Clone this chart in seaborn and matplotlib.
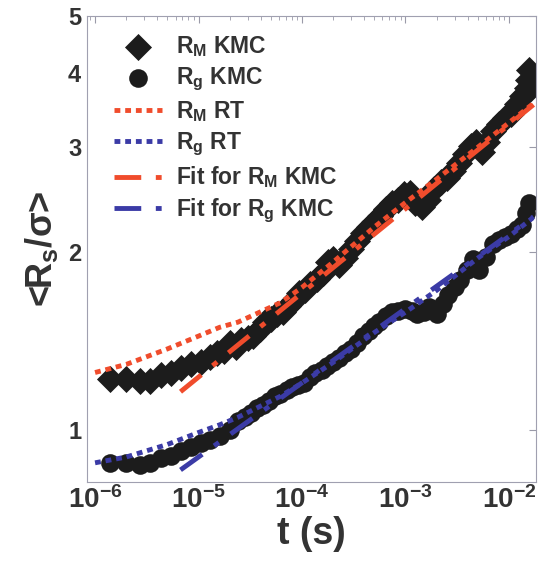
import numpy as np
import pandas as pd
import matplotlib
matplotlib.use("Agg")
import matplotlib.pyplot as plt
import matplotlib.ticker as mticker
import seaborn as sns

# ---- data ----
rm_t = [1.4e-6, 2.0e-6, 2.7e-6, 3.4e-6, 4.3e-6, 5.4e-6, 6.7e-6, 8.4e-6, 1.05e-5, 1.3e-5,
        1.5e-5, 1.75e-5, 2.0e-5, 2.3e-5, 2.6e-5, 3.0e-5, 3.4e-5, 3.9e-5, 4.4e-5, 5.0e-5,
        5.7e-5, 6.5e-5, 7.3e-5, 8.3e-5, 9.4e-5, 1.07e-4, 1.2e-4, 1.4e-4, 1.6e-4, 1.8e-4,
        2.0e-4, 2.3e-4, 2.6e-4, 3.0e-4, 3.4e-4, 3.9e-4, 4.4e-4, 5.0e-4, 5.7e-4, 6.5e-4,
        7.5e-4, 8.5e-4, 9.7e-4, 1.1e-3, 1.25e-3, 1.45e-3, 1.65e-3, 1.9e-3, 2.2e-3, 2.5e-3,
        2.9e-3, 3.3e-3, 3.8e-3, 4.3e-3, 4.8e-3, 5.5e-3, 6.2e-3, 7.1e-3, 8.1e-3, 9.2e-3,
        1.05e-2, 1.2e-2, 1.35e-2, 1.45e-2, 1.5e-2, 1.52e-2, 1.55e-2]
rm_kmc = [1.22, 1.22, 1.21, 1.21, 1.24, 1.25, 1.27, 1.29, 1.30, 1.33,
          1.35, 1.36, 1.40, 1.38, 1.42, 1.43, 1.44, 1.48, 1.52, 1.54,
          1.57, 1.58, 1.62, 1.66, 1.70, 1.72, 1.76, 1.80, 1.84, 1.92,
          1.94, 1.90, 1.95, 2.02, 2.08, 2.15, 2.20, 2.24, 2.30, 2.36,
          2.42, 2.44, 2.50, 2.51, 2.42, 2.38, 2.44, 2.55, 2.62, 2.66,
          2.74, 2.82, 2.92, 3.02, 3.06, 2.95, 3.06, 3.20, 3.28, 3.36,
          3.42, 3.55, 3.66, 3.70, 3.78, 3.90, 4.05]

rg_t = [1.4e-6, 2.0e-6, 2.7e-6, 3.4e-6, 4.3e-6, 5.4e-6, 6.7e-6, 8.4e-6, 1.05e-5, 1.3e-5,
        1.6e-5, 2.0e-5, 2.4e-5, 2.8e-5, 3.2e-5, 3.7e-5, 4.2e-5, 4.8e-5, 5.5e-5, 6.2e-5,
        7.1e-5, 8.1e-5, 9.2e-5, 1.05e-4, 1.2e-4, 1.35e-4, 1.55e-4, 1.75e-4, 2.0e-4, 2.3e-4,
        2.6e-4, 3.0e-4, 3.4e-4, 3.9e-4, 4.4e-4, 5.0e-4, 5.6e-4, 6.5e-4, 7.5e-4, 8.5e-4,
        1.0e-3, 1.15e-3, 1.3e-3, 1.5e-3, 1.7e-3, 2.0e-3, 2.3e-3, 2.6e-3, 3.0e-3, 3.4e-3,
        3.9e-3, 4.5e-3, 5.2e-3, 6.0e-3, 7.0e-3, 8.0e-3, 9.2e-3, 1.05e-2, 1.2e-2, 1.35e-2,
        1.45e-2, 1.55e-2]
rg_kmc = [0.88, 0.88, 0.873, 0.88, 0.895, 0.905, 0.92, 0.935, 0.95, 0.96,
          0.975, 1.00, 1.035, 1.05, 1.07, 1.09, 1.10, 1.12, 1.14, 1.15,
          1.17, 1.18, 1.19, 1.20, 1.23, 1.25, 1.26, 1.28, 1.30, 1.32,
          1.35, 1.37, 1.40, 1.44, 1.47, 1.50, 1.52, 1.56, 1.58, 1.59,
          1.60, 1.59, 1.57, 1.58, 1.61, 1.57, 1.63, 1.69, 1.74, 1.79,
          1.86, 1.94, 1.86, 1.96, 2.06, 2.09, 2.12, 2.14, 2.18, 2.22,
          2.32, 2.42]

rt_t = [1e-6, 2e-6, 5e-6, 1e-5, 1.6e-5, 2.4e-5, 6.2e-5, 1e-4, 2e-4, 5e-4, 1e-3, 2e-3, 5e-3,
        1e-2, 1.7e-2]
rm_rt = [1.25, 1.29, 1.37, 1.44, 1.49, 1.52, 1.64, 1.74, 1.92, 2.20, 2.42, 2.65, 3.00,
         3.30, 3.55]
rg_rt = [0.88, 0.90, 0.945, 0.99, 1.02, 1.05, 1.14, 1.20, 1.30, 1.46, 1.58, 1.72, 1.95,
         2.12, 2.28]

fit_t = [6.7e-6, 1.73e-2]
fit_rm = [1.16, 3.54]
fit_rg = [0.856, 2.29]

RED = "#f04c2c"
BLUE = "#3b3ba6"
DARK = "#1c1c1c"
TXT = "#333333"

sns.set_theme(style="white")
plt.rcParams["font.family"] = ["Liberation Sans", "DejaVu Sans"]
plt.rcParams["font.weight"] = "bold"
plt.rcParams["mathtext.fontset"] = "custom"
for k in ["rm", "bf", "it", "sf"]:
    plt.rcParams["mathtext." + k] = "Liberation Sans:bold"
plt.rcParams["mathtext.default"] = "bf"

fig = plt.figure(figsize=(5.39, 5.66), dpi=100)
ax = fig.add_axes([0.161, 0.148, 0.833, 0.824])

lw = 3.5
sns.scatterplot(x=rm_t, y=rm_kmc, marker="D", s=190, color=DARK, edgecolor=DARK,
                linewidth=0, ax=ax, label=r"R$_M$ KMC", zorder=2)
sns.scatterplot(x=rg_t, y=rg_kmc, marker="o", s=180, color=DARK, edgecolor=DARK,
                linewidth=0, ax=ax, label=r"R$_g$ KMC", zorder=2)
sns.lineplot(x=rt_t, y=rm_rt, color=RED, linestyle=(0, (1.2, 1.0)), linewidth=lw,
             estimator=None, sort=False, ax=ax, label=r"R$_M$ RT", zorder=3)
sns.lineplot(x=rt_t, y=rg_rt, color=BLUE, linestyle=(0, (1.2, 1.0)), linewidth=lw,
             estimator=None, sort=False, ax=ax, label=r"R$_g$ RT", zorder=3)
sns.lineplot(x=fit_t, y=fit_rm, color=RED, linestyle=(0, (5.5, 3.0, 1.2, 3.0)), linewidth=lw,
             estimator=None, sort=False, ax=ax, label=r"Fit for R$_M$ KMC", zorder=3)
sns.lineplot(x=fit_t, y=fit_rg, color=BLUE, linestyle=(0, (5.5, 3.0, 1.2, 3.0)), linewidth=lw,
             estimator=None, sort=False, ax=ax, label=r"Fit for R$_g$ KMC", zorder=3)

ax.set_xscale("log")
ax.set_yscale("log")
ax.set_xlim(10 ** -6.08, 10 ** -1.74)
ax.set_ylim(0.816, 5.0)

ax.yaxis.set_major_locator(mticker.FixedLocator([1, 2, 3, 4, 5]))
ax.yaxis.set_major_formatter(mticker.FixedFormatter(["1", "2", "3", "4", "5"]))
ax.yaxis.set_minor_locator(mticker.NullLocator())
ax.xaxis.set_major_locator(mticker.LogLocator(base=10, numticks=10))
ax.xaxis.set_minor_locator(mticker.LogLocator(base=10, subs=np.arange(2, 10), numticks=20))

ax.tick_params(axis="both", which="both", direction="in", top=True, right=True,
               colors="#9a9aa8", labelcolor=TXT)
ax.tick_params(axis="both", which="major", length=5, width=0.8)
ax.tick_params(axis="both", which="minor", length=3, width=0.6)
ax.tick_params(axis="x", labelsize=20, pad=3)
ax.tick_params(axis="y", labelsize=17, pad=4)
for sp in ax.spines.values():
    sp.set_color("#a0a0b0")
    sp.set_linewidth(0.8)

ax.set_xlabel("t (s)", fontsize=27, fontweight="bold", color=TXT, labelpad=1)
ax.set_ylabel(r"<R$_s$/σ>", fontsize=26, fontweight="bold", color=TXT, labelpad=6)

leg = ax.legend(loc="upper left", bbox_to_anchor=(0.03, 0.99), frameon=False,
                fontsize=16.5, handlelength=2.1, handletextpad=0.6, labelspacing=0.28,
                borderaxespad=0.2)
for t in leg.get_texts():
    t.set_color(TXT)
    t.set_fontweight("bold")

fig.savefig("out.png", dpi=100)
